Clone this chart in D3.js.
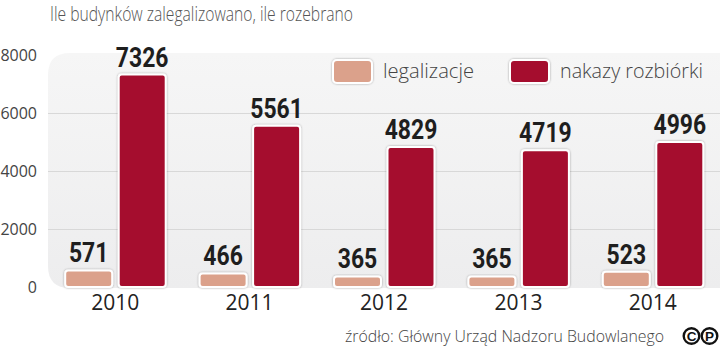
<!DOCTYPE html>
<html><head><meta charset="utf-8">
<script src="https://cdn.jsdelivr.net/npm/d3@7"></script>
<style>
body{margin:0;background:#fff;}
svg{display:block;}
</style></head><body>
<svg id="c" width="720" height="347"></svg>
<script>
const years = ["2010","2011","2012","2013","2014"];
const legalizacje = [571,466,365,365,523];
const rozbiorki = [7326,5561,4829,4719,4996];
const yTicks = [0,2000,4000,6000,8000];
const seriesNames = ["legalizacje","nakazy rozbiórki"];
const colors = ["#dba18b","#a50e2d"];

const svg = d3.select("#c");
const defs = svg.append("defs");
const g1 = defs.append("linearGradient").attr("id","bg").attr("x1",0).attr("y1",0).attr("x2",0).attr("y2",1);
g1.append("stop").attr("offset","0%").attr("stop-color","#f6f6f6");
g1.append("stop").attr("offset","100%").attr("stop-color","#ededee");
const f = defs.append("filter").attr("id","sh").attr("x","-20%").attr("y","-20%").attr("width","140%").attr("height","140%");
f.append("feDropShadow").attr("dx",0).attr("dy",0).attr("stdDeviation",0.8).attr("flood-color","#000").attr("flood-opacity",0.35);

const x0 = 48, x1 = 720;
const y = d3.scaleLinear().domain([0,8000]).range([287,55]);
const x = d3.scaleBand().domain(years).range([x0,x1]);

// title
svg.append("text").attr("x",50).attr("y",21).attr("font-family","Open Sans").attr("font-weight",300)
  .attr("font-size",21).attr("fill","#555").attr("textLength",303).attr("lengthAdjust","spacingAndGlyphs")
  .text("Ile budynków zalegalizowano, ile rozebrano");

// background
svg.append("path").attr("fill","url(#bg)")
  .attr("d",`M${x0+22},53 H${x1+10} V288 H${x0+22} Q${x0},288 ${x0},266 V75 Q${x0},53 ${x0+22},53 Z`);

// grid
svg.append("g").selectAll("line").data(yTicks.filter(d=>d>0 && d<8000)).join("line")
  .attr("x1",x0).attr("x2",x1).attr("y1",d=>Math.round(y(d))+0.5).attr("y2",d=>Math.round(y(d))+0.5)
  .attr("stroke","#d8d8d8").attr("stroke-width",1);

// y axis
const ya = svg.append("g").attr("transform","translate(37,0)")
  .call(d3.axisLeft(y).tickValues(yTicks).tickFormat(d3.format("d")).tickSize(0).tickPadding(0));
ya.select(".domain").remove();
ya.selectAll("text").attr("font-family","Open Sans").attr("font-size",16).attr("fill","#444");

// legend
const leg = svg.append("g");
const legX = [333,510];
const legW = [91,143];
seriesNames.forEach((n,i)=>{
  leg.append("rect").attr("x",legX[i]).attr("y",60).attr("width",39).attr("height",23).attr("rx",4)
    .attr("fill",colors[i]).attr("stroke","#fff").attr("stroke-width",2).attr("filter","url(#sh)");
  leg.append("text").attr("x",legX[i]+50).attr("y",78).attr("font-family","Open Sans").attr("font-weight",300)
    .attr("font-size",21).attr("fill","#444").attr("textLength",legW[i]).attr("lengthAdjust","spacingAndGlyphs").text(n);
});

// bars
const bw = 47;
const groups = svg.append("g").selectAll("g").data(years).join("g")
  .attr("transform",d=>`translate(${x(d)+x.bandwidth()/2},0)`);
const data = years.map((yr,i)=>[legalizacje[i],rozbiorki[i]]);
groups.each(function(yr,i){
  const gg = d3.select(this);
  const vals = data[i];
  const offs = [-26.5-bw/2, 27-bw/2];
  vals.forEach((v,k)=>{
    gg.append("rect").attr("x",offs[k]).attr("y",y(v)).attr("width",bw).attr("height",y(0)-y(v))
      .attr("rx",3).attr("fill",colors[k]).attr("stroke","#fff").attr("stroke-width",2).attr("filter","url(#sh)");
    gg.append("text").attr("transform",`translate(${offs[k]+bw/2},${y(v)-8}) scale(0.82,1)`).attr("text-anchor","middle")
      .attr("font-family","Roboto").attr("font-weight","bold").attr("font-size",28)
      .attr("fill","#1e1e1e").text(v);
  });
});

// x axis labels
const xa = svg.append("g").attr("transform","translate(0,290)").call(d3.axisBottom(x).tickSize(0).tickPadding(0));
xa.select(".domain").remove();
xa.selectAll("text").attr("font-family","Open Sans").attr("font-size",21).attr("fill","#222").attr("dy","0.95em");

// source
svg.append("text").attr("x",664).attr("y",342).attr("text-anchor","end").attr("font-family","Open Sans").attr("font-weight",300)
  .attr("font-size",17).attr("fill","#444").attr("textLength",319).attr("lengthAdjust","spacingAndGlyphs")
  .text("źródło: Główny Urząd Nadzoru Budowlanego");
// CP logo
const cp = svg.append("g");
[["C",691.5],["P",709.5]].forEach(([t,cx])=>{
  cp.append("circle").attr("cx",cx).attr("cy",336).attr("r",7.8).attr("fill","none").attr("stroke","#111").attr("stroke-width",2.4);
  cp.append("text").attr("x",cx).attr("y",341).attr("text-anchor","middle").attr("font-family","Liberation Sans")
    .attr("font-weight","bold").attr("font-size",13.5).attr("fill","#111").text(t);
});
</script></body></html>
